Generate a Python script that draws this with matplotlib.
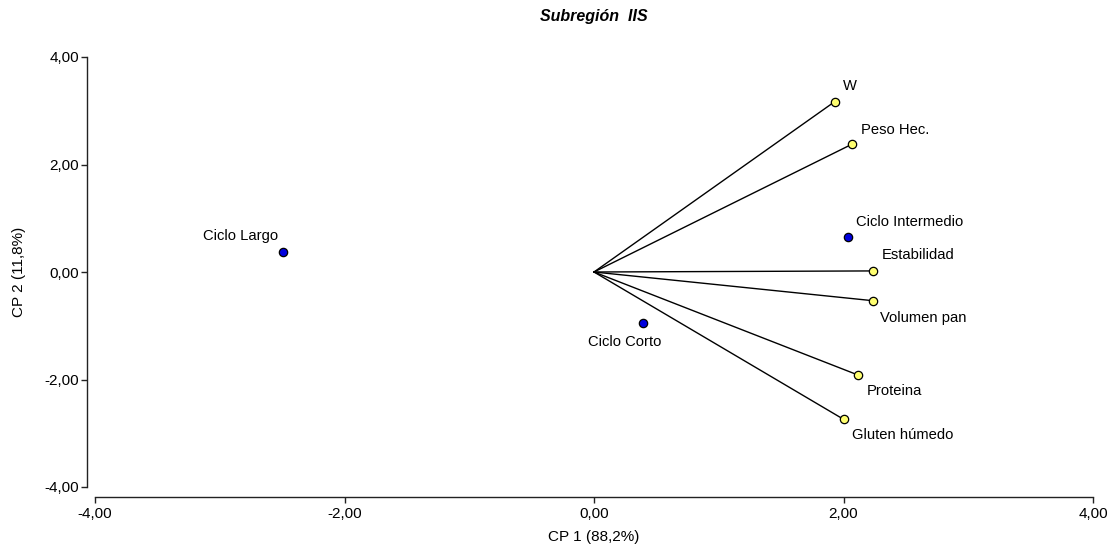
import matplotlib.pyplot as plt
from matplotlib.ticker import FuncFormatter

# variable vectors (yellow) and group scores (blue)
variables = ['W', 'Peso Hec.', 'Estabilidad', 'Volumen pan', 'Proteina', 'Gluten húmedo']
var_x = [1.93, 2.07, 2.24, 2.24, 2.12, 2.00]
var_y = [3.17, 2.38, 0.02, -0.535, -1.92, -2.74]

groups = ['Ciclo Largo', 'Ciclo Corto', 'Ciclo Intermedio']
grp_x = [-2.49, 0.39, 2.04]
grp_y = [0.37, -0.94, 0.65]

ticks = [-4, -2, 0, 2, 4]

plt.rcParams['font.family'] = ['Liberation Sans', 'DejaVu Sans']

fig = plt.figure(figsize=(11.15, 5.53), dpi=100)
ax = fig.add_axes([95 / 1115, 1 - 487 / 553, 998 / 1115, 430 / 553])

# vectors from origin
for x, y in zip(var_x, var_y):
    ax.plot([0, x], [0, y], color='black', lw=1, zorder=2)

ax.plot(var_x, var_y, 'o', ms=6, mfc='#ffff70', mec='black', mew=0.9, ls='none', zorder=3)
ax.plot(grp_x, grp_y, 'o', ms=6, mfc='#0000dd', mec='black', mew=0.9, ls='none', zorder=3)

# label offsets in pixels (dx, dy, ha)
var_off = [(8, 16, 'left'), (9, 14, 'left'), (8, 16, 'left'),
           (7, -17, 'left'), (8, -16, 'left'), (8, -16, 'left')]
grp_off = [(-5, 16, 'right'), (-18, -19, 'center'), (8, 15, 'left')]

for name, x, y, (dx, dy, ha) in zip(variables, var_x, var_y, var_off):
    ax.annotate(name, (x, y), xytext=(dx, dy), textcoords='offset pixels',
                ha=ha, va='center', fontsize=10.6)
for name, x, y, (dx, dy, ha) in zip(groups, grp_x, grp_y, grp_off):
    ax.annotate(name, (x, y), xytext=(dx, dy), textcoords='offset pixels',
                ha=ha, va='center', fontsize=10.6)

ax.set_xlim(-4, 4)
ax.set_ylim(-4, 4)
ax.set_xticks(ticks)
ax.set_yticks(ticks)
fmt = FuncFormatter(lambda v, p: f'{v:.2f}'.replace('.', ','))
ax.xaxis.set_major_formatter(fmt)
ax.yaxis.set_major_formatter(fmt)

for s in ['top', 'right']:
    ax.spines[s].set_visible(False)
ax.spines['left'].set_position(('outward', 6))
ax.spines['bottom'].set_position(('outward', 7.2))
for s in ['left', 'bottom']:
    ax.spines[s].set_color('#222222')
    ax.spines[s].set_linewidth(1)
ax.tick_params(direction='out', length=4, width=1, color='#222222',
               labelsize=11)
ax.tick_params(axis='x', pad=3.5)
ax.tick_params(axis='y', pad=1.5)

ax.set_xlabel('CP 1 (88,2%)', fontsize=11, labelpad=6)
ax.set_ylabel('CP 2 (11,8%)', fontsize=11, labelpad=13)
fig.text(594 / 1115, 1 - 16.5 / 553, 'Subregión  IIS', ha='center', va='center',
         fontsize=11.5, fontweight='bold', fontstyle='italic')

fig.savefig('out.png', dpi=100)
